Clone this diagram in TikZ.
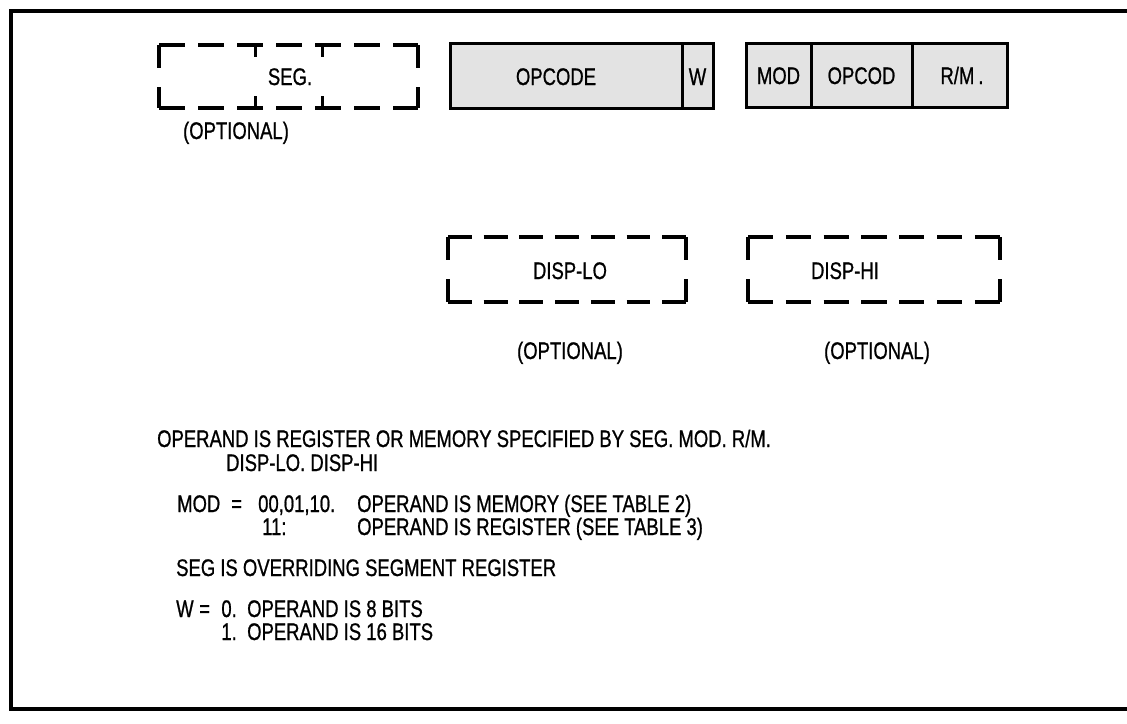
\documentclass[tikz,border=0pt]{standalone}
\usepackage{fontspec}
\setmainfont{Liberation Sans}[FakeStretch=0.77,FakeBold=0.8]
\begin{document}
\begin{tikzpicture}[x=1pt,y=-1pt,
  txt/.style={inner sep=0pt,anchor=base west,font=\fontsize{24}{28}\selectfont},
  ctxt/.style={inner sep=0pt,anchor=base,font=\fontsize{24}{28}\selectfont},
  dside/.style={line width=3.4pt},
  hseg/.style={dside,dash pattern=on 26pt off 13pt},
  hlo/.style={dside,dash pattern=on 23.8pt off 11.9pt},
  hhi/.style={dside,dash pattern=on 25.2pt off 12.6pt},
  vside/.style={dside,dash pattern=on 23pt off 19pt},
  solidbox/.style={draw,line width=3pt,fill=black!11},
  divider/.style={line width=3pt},
  frame/.style={line width=3.6pt}]
\useasboundingbox (0,0) rectangle (1127,723);
\fill[white] (0,0) rectangle (1127,723);
% frame (open on the right)
\coordinate (ftr) at (1127,11);
\coordinate (ftl) at (11,11);
\coordinate (fbl) at (11,709);
\coordinate (fbr) at (1127,709);
\draw[frame] (ftr) -- (ftl) -- (fbl) -- (fbr);
% SEG box (dashed, optional)
\coordinate (sa) at (159,45);
\coordinate (sb) at (418,45);
\coordinate (sc) at (418,108);
\coordinate (sd) at (159,108);
\draw[hseg] (sa) -- (sb);
\draw[hseg] (sd) -- (sc);
\draw[vside] (sa) -- (sd);
\draw[vside] (sb) -- (sc);
\draw[divider] (255,45) -- (255,57) (322,45) -- (322,57)
  (255,108) -- (255,96) (322,108) -- (322,96);
\node[ctxt] (seg) at (290,85) {SEG.};
\node[ctxt] (opt1) at (236,139) {(OPTIONAL)};
% OPCODE box
\draw[solidbox] (450,43) rectangle (713,108);
\draw[divider] (682,43) -- (682,108);
\node[ctxt] (opc) at (556,85) {OPCODE};
\node[ctxt] (w) at (697.5,85) {W};
% MOD box
\draw[solidbox] (746,43) rectangle (1007,107);
\draw[divider] (811,43) -- (811,107) (912,43) -- (912,107);
\node[ctxt] (mod) at (778.5,84) {MOD};
\node[ctxt] (opcod) at (861.5,84) {OPCOD};
\node[ctxt] (rm) at (962,84) {R/M\,.};
% DISP-LO box
\coordinate (la) at (448,237);
\coordinate (lb) at (686,237);
\coordinate (lc) at (686,302);
\coordinate (ld) at (448,302);
\draw[hlo] (la) -- (lb);
\draw[hlo] (ld) -- (lc);
\draw[vside] (la) -- (ld);
\draw[vside] (lb) -- (lc);
\node[ctxt] (dlo) at (570,279) {DISP-LO};
\node[ctxt] (opt2) at (570,359) {(OPTIONAL)};
% DISP-HI box
\coordinate (ha) at (748,237);
\coordinate (hb) at (1000,237);
\coordinate (hc) at (1000,302);
\coordinate (hd) at (748,302);
\draw[hhi] (ha) -- (hb);
\draw[hhi] (hd) -- (hc);
\draw[vside] (ha) -- (hd);
\draw[vside] (hb) -- (hc);
\node[ctxt] (dhi) at (845,279) {DISP-HI};
\node[ctxt] (opt3) at (877,359) {(OPTIONAL)};
% explanatory text
\node[txt] (l1) at (157,447) {OPERAND IS REGISTER OR MEMORY SPECIFIED BY SEG. MOD. R/M.};
\node[txt] (l2) at (226,471) {DISP-LO. DISP-HI};
\node[txt] (m1) at (177,512) {MOD};
\node[txt] (m2) at (231,512) {=};
\node[txt] (m3) at (258,512) {00,01,10.};
\node[txt] (m4) at (357,512) {OPERAND IS MEMORY (SEE TABLE 2)};
\node[txt] (m5) at (262,535) {11:};
\node[txt] (m6) at (357,535) {OPERAND IS REGISTER (SEE TABLE 3)};
\node[txt] (sg) at (176,576) {SEG IS OVERRIDING SEGMENT REGISTER};
\node[txt] (w1) at (176,617) {W};
\node[txt] (w2) at (199,617) {=};
\node[txt,anchor=base east] (w3) at (237,617) {0.};
\node[txt] (w4) at (247,617) {OPERAND IS 8 BITS};
\node[txt,anchor=base east] (w5) at (237,640) {1.};
\node[txt] (w6) at (247,640) {OPERAND IS 16 BITS};
\end{tikzpicture}
\end{document}
